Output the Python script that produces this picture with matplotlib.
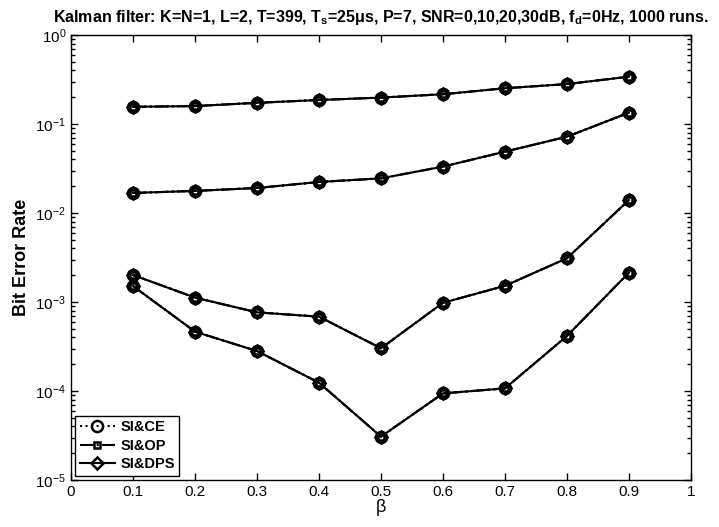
import matplotlib
matplotlib.use("Agg")
import matplotlib.pyplot as plt
from matplotlib.ticker import LogLocator, FixedLocator, NullFormatter

plt.rcParams["font.family"] = ["Liberation Sans", "DejaVu Sans"]
plt.rcParams["mathtext.fontset"] = "custom"
plt.rcParams["mathtext.rm"] = "Liberation Sans"
plt.rcParams["mathtext.it"] = "Liberation Sans:italic"
plt.rcParams["mathtext.bf"] = "Liberation Sans:bold"

beta = [0.1, 0.2, 0.3, 0.4, 0.5, 0.6, 0.7, 0.8, 0.9]

# BER per SNR (the three methods coincide in the picture)
ber_snr0 = [0.156, 0.159, 0.173, 0.186, 0.198, 0.216, 0.252, 0.281, 0.340]
ber_snr10 = [0.0168, 0.0177, 0.0191, 0.0223, 0.0245, 0.0332, 0.0489, 0.072, 0.134]
ber_snr20 = [0.00201, 0.00112, 0.000765, 0.000684, 0.000302, 0.00098, 0.00152, 0.0031, 0.014]
ber_snr30 = [0.00151, 0.000464, 0.000281, 0.000124, 3.07e-5, 9.4e-5, 1.07e-4, 0.000415, 0.00214]

methods = ["SI&CE", "SI&OP", "SI&DPS"]
styles = [(":", "o", 8), ("-.", "s", 5), ("-", "D", 6.5)]

fig = plt.figure(figsize=(7.19, 5.27), dpi=100)
ax = fig.add_axes([0.0988, 0.0892, 0.8622, 0.8444])

curves = [ber_snr0, ber_snr10, ber_snr20, ber_snr30]
for name, (ls, mk, ms) in zip(methods, styles):
    for i, ber in enumerate(curves):
        ax.plot(beta, ber, linestyle=ls, marker=mk, color="black", lw=1.5,
                markersize=ms, markerfacecolor="none", markeredgewidth=1.8,
                label=name if i == 0 else None)

ax.set_yscale("log")
ax.set_xlim(0, 1)
ax.set_ylim(1e-5, 1)
ax.xaxis.set_major_locator(FixedLocator([i / 10 for i in range(11)]))
ax.set_xticklabels(["0"] + [f"{i/10:g}" for i in range(1, 10)] + ["1"])
ax.yaxis.set_major_locator(LogLocator(base=10, numticks=10))
ax.yaxis.set_minor_locator(LogLocator(base=10, subs=range(2, 10), numticks=10))
ax.yaxis.set_minor_formatter(NullFormatter())
ax.tick_params(which="both", direction="in", top=True, right=True, labelsize=11)
ax.tick_params(which="major", length=5, width=1)
ax.tick_params(which="minor", length=3, width=1)
for s in ax.spines.values():
    s.set_linewidth(1)

ax.set_xlabel("β", fontsize=13, labelpad=0)
ax.set_ylabel("Bit Error Rate", fontsize=13, fontweight="bold", labelpad=4)
ax.set_title(r"Kalman filter: K=N=1, L=2, T=399, $\mathbf{T_s}$=25$\mathbf{\mu}$s, P=7, "
             r"SNR=0,10,20,30dB, $\mathbf{f_d}$=0Hz, 1000 runs.",
             fontsize=11.5, fontweight="bold", pad=9)

leg = ax.legend(loc="lower left", prop={"weight": "bold", "size": 10.5},
                fancybox=False, edgecolor="black", framealpha=1,
                borderaxespad=0.3, handlelength=2.4, borderpad=0.3,
                labelspacing=0.3, handletextpad=0.4)
leg.get_frame().set_linewidth(1)

fig.savefig("out.png", dpi=100)
